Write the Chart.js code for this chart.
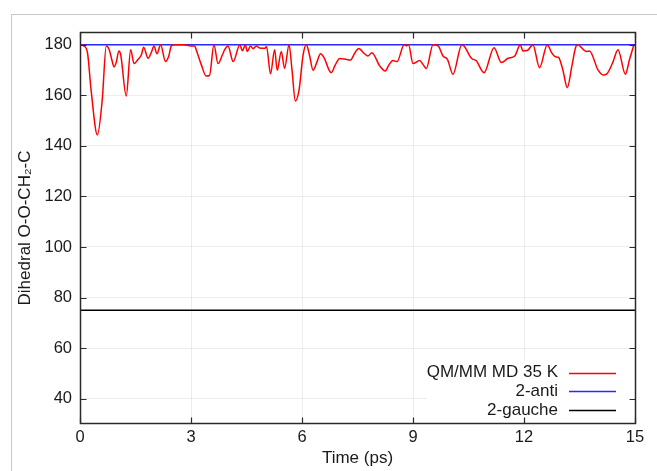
<!DOCTYPE html>
<html>
<head>
<meta charset="utf-8">
<script src="https://cdn.jsdelivr.net/npm/chart.js@4"></script>
<style>
  body { margin: 0; background: #fff; overflow: hidden; }
  #frame { position: absolute; left: 11px; top: 14px; width: 700px; height: 500px; border: 1px solid #c8c8c8; }
  #wrap { position: absolute; left: 0; top: 0; width: 657px; height: 471px; }
</style>
</head>
<body>
<div id="frame"></div>
<div id="wrap"><canvas id="dihedralChart" width="657" height="471"></canvas></div>
<script>
// time axis (ps) and the QM/MM dihedral trace
const timePs = [
  0.0, 0.1, 0.2, 0.3, 0.47, 0.6, 0.71, 0.79, 0.86, 0.92, 0.98, 1.05, 1.1, 1.25, 1.37, 1.46, 1.56, 1.66,
  1.72, 1.84, 1.93, 2.0, 2.08, 2.18, 2.31, 2.4, 2.47, 2.57, 2.8, 3.0, 3.1, 3.14, 3.28, 3.41, 3.5, 3.62,
  3.73, 3.85, 3.91, 4.0, 4.14, 4.32, 4.39, 4.47, 4.52, 4.61, 4.68, 4.77, 4.85, 5.0, 5.04, 5.15, 5.26,
  5.33, 5.44, 5.53, 5.65, 5.73, 5.82, 5.92, 6.03, 6.12, 6.2, 6.3, 6.4, 6.5, 6.59, 6.79, 6.9, 7.02, 7.15,
  7.31, 7.42, 7.53, 7.69, 7.78, 7.89, 8.1, 8.25, 8.35, 8.46, 8.57, 8.76, 8.82, 8.88, 9.0, 9.18, 9.27,
  9.36, 9.54, 9.68, 9.81, 9.93, 10.08, 10.32, 10.38, 10.58, 10.71, 10.92, 11.19, 11.39, 11.57, 11.75,
  11.9, 11.97, 12.1, 12.24, 12.42, 12.63, 12.74, 12.85, 12.93, 13.05, 13.17, 13.3, 13.41, 13.47, 13.54,
  13.68, 13.77, 14.0, 14.14, 14.23, 14.4, 14.54, 14.74, 14.85, 14.97
];
const dihedralQmmm = [
  180, 179.5, 177, 162, 144.3, 158, 179.5, 178, 174, 171.2, 173, 177.5, 176, 159.7, 178, 172.5, 174, 176,
  179, 174.6, 177, 179.5, 176.4, 180, 173.3, 175.5, 179.6, 180, 180, 179.5, 179.5, 178, 172, 167.6, 167.8, 180,
  172.5, 176, 178, 179.5, 173.3, 180, 177.6, 180, 177.3, 179.5, 178.4, 179.5, 178.7, 178.6, 179.3, 168.5, 178,
  169.9, 177.3, 170.6, 180, 170, 157.7, 162, 176, 180, 176, 169.9, 173, 176.4, 175, 168.9, 172, 174.5, 174.3,
  173.9, 176.5, 178.5, 176.4, 175.5, 176.8, 171.6, 169.6, 172, 173.7, 173.3, 180, 179.5, 180, 172.5, 173.7, 172.2,
  170.6, 180, 179.5, 175.5, 174.2, 168.3, 180, 179.5, 174.6, 173.6, 168.9, 178.8, 172.9, 174.6, 175.5,
  180, 177.5, 177.8, 180, 170.9, 180, 177, 175.2, 175, 170, 163, 172, 179.5, 180, 179,
  177.3, 177.5, 170, 168, 168.3, 173, 178, 168.3, 174, 180
];

// reference dihedrals, drawn across the whole time range
const timeRange = [0, 15];
const antiValue = 180;
const gaucheValue = 75;

const seriesLabels = ["QM/MM MD 35 K", "2-anti", "2-gauche"];
const seriesColors = ["rgb(255,0,0)", "rgb(40,40,255)", "rgb(0,0,0)"];

const xTickValues = [0, 3, 6, 9, 12, 15];
const yTickValues = [40, 60, 80, 100, 120, 140, 160, 180];

const fontFamily = "'Liberation Sans', Arial, sans-serif";
const textColor = "#1a1a1a";

// gnuplot-like box with inward ticks plus an in-plot key
const gnuplotFrame = {
  id: "gnuplotFrame",
  afterDraw(chart) {
    const { ctx, chartArea: a, scales } = chart;
    ctx.save();

    // key background
    ctx.fillStyle = "#fff";
    ctx.fillRect(a.left + 347, a.bottom - 64, a.right - a.left - 348, 63);

    ctx.font = "17px " + fontFamily;
    ctx.textAlign = "right";
    ctx.textBaseline = "middle";
    chart.data.datasets.forEach((ds, i) => {
      const y = a.bottom - 51.5 + i * 18.8;
      ctx.fillStyle = textColor;
      ctx.fillText(ds.label, a.right - 77, y);
      ctx.strokeStyle = ds.borderColor;
      ctx.lineWidth = 1.5;
      ctx.beginPath();
      ctx.moveTo(a.right - 66, Math.round(y) + 0.5);
      ctx.lineTo(a.right - 19, Math.round(y) + 0.5);
      ctx.stroke();
    });

    ctx.strokeStyle = "#2a2a2a";
    ctx.lineWidth = 1.5;
    const L = Math.round(a.left) + 0.5, R = Math.round(a.right) + 0.5;
    const T = Math.round(a.top) + 0.5, B = Math.round(a.bottom) - 0.5;
    ctx.strokeRect(L, T, R - L, B - T);

    const len = 6;
    ctx.lineWidth = 1.2;
    ctx.beginPath();
    scales.x.ticks.forEach((t) => {
      const px = Math.round(scales.x.getPixelForValue(t.value)) + 0.5;
      ctx.moveTo(px, B); ctx.lineTo(px, B - len);
      ctx.moveTo(px, T); ctx.lineTo(px, T + len);
    });
    scales.y.ticks.forEach((t) => {
      const py = Math.round(scales.y.getPixelForValue(t.value)) + 0.5;
      ctx.moveTo(L, py); ctx.lineTo(L + len, py);
      ctx.moveTo(R, py); ctx.lineTo(R - len, py);
    });
    ctx.stroke();
    ctx.restore();
  },
};

const qmmmPoints = timePs.map((t, i) => ({ x: t, y: dihedralQmmm[i] }));
const flatLine = (v) => timeRange.map((t) => ({ x: t, y: v }));

new Chart(document.getElementById("dihedralChart"), {
  type: "line",
  data: {
    datasets: [
      {
        label: seriesLabels[0],
        data: qmmmPoints,
        borderColor: seriesColors[0],
        borderWidth: 1.5,
        pointRadius: 0,
        cubicInterpolationMode: "monotone",
      },
      {
        label: seriesLabels[1],
        data: flatLine(antiValue),
        borderColor: seriesColors[1],
        borderWidth: 1.5,
        pointRadius: 0,
      },
      {
        label: seriesLabels[2],
        data: flatLine(gaucheValue),
        borderColor: seriesColors[2],
        borderWidth: 1.5,
        pointRadius: 0,
      },
    ],
  },
  options: {
    responsive: false,
    animation: false,
    clip: false,
    layout: { padding: { left: 0, top: 32, right: 22, bottom: 0 } },
    plugins: {
      legend: { display: false },
      tooltip: { enabled: false },
    },
    scales: {
      x: {
        type: "linear",
        min: timeRange[0],
        max: timeRange[1],
        afterBuildTicks: (s) => { s.ticks = xTickValues.map((v) => ({ value: v })); },
        afterFit: (s) => { s.height = 47; },
        grid: { color: "rgba(0,0,0,0.07)", drawTicks: false },
        border: { display: false },
        ticks: { padding: 4, color: textColor, font: { family: fontFamily, size: 16.5 }, maxRotation: 0 },
        title: {
          display: true,
          text: "Time (ps)",
          color: textColor,
          font: { family: fontFamily, size: 17 },
          padding: { top: 0, bottom: 2 },
        },
      },
      y: {
        min: 30,
        max: 185,
        afterBuildTicks: (s) => { s.ticks = yTickValues.map((v) => ({ value: v })); },
        afterFit: (s) => { s.width = 80; },
        grid: { color: "rgba(0,0,0,0.07)", drawTicks: false },
        border: { display: false },
        ticks: { padding: 8, color: textColor, font: { family: fontFamily, size: 16.5 } },
        title: {
          display: true,
          text: "Dihedral O-O-CH₂-C",
          color: textColor,
          font: { family: fontFamily, size: 17 },
          padding: { top: 15, bottom: 0 },
        },
      },
    },
  },
  plugins: [gnuplotFrame],
});
</script>
</body>
</html>
